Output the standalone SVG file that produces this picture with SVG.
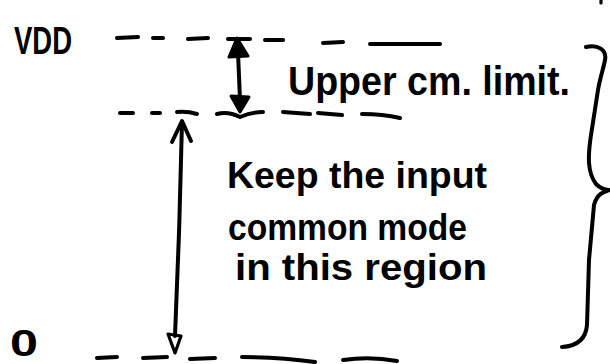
<svg xmlns="http://www.w3.org/2000/svg" width="610" height="364" viewBox="0 0 610 364">
  <style>
    .ink { fill: none; stroke: #000; stroke-width: 4; stroke-linecap: round; stroke-linejoin: round; }
    .thin { fill: none; stroke: #000; stroke-width: 3.2; stroke-linecap: round; stroke-linejoin: round; }
    .head { fill: #000; stroke: #000; stroke-width: 3; stroke-linejoin: round; }
    .hand { font-family: "Liberation Sans", "DejaVu Sans", sans-serif; font-weight: bold; fill: #000; }
  </style>
  <rect width="610" height="364" fill="#fff"/>

  <!-- supply rail label -->
  <g id="vdd-label">
    <text class="hand" x="14" y="54" font-size="38" textLength="58" lengthAdjust="spacingAndGlyphs">VDD</text>
  </g>

  <!-- ground label -->
  <g id="zero-label">
    <text class="hand" x="10" y="356" font-size="36" textLength="28" lengthAdjust="spacingAndGlyphs">0</text>
  </g>

  <!-- dashed VDD rail -->
  <g id="vdd-rail">
    <path class="ink" d="M117,38 L138,37"/>
    <path class="ink" d="M153,38 L163,38"/>
    <path class="ink" d="M188,39 L208,38"/>
    <path class="ink" d="M228,39 L250,39"/>
    <path class="ink" d="M265,40 L283,40"/>
    <path class="ink" d="M323,43 L343,42"/>
    <path class="ink" d="M370,44 L440,44"/>
  </g>

  <!-- dashed upper common-mode limit -->
  <g id="limit-line">
    <path class="ink" d="M120,113 L133,113"/>
    <path class="ink" d="M152,113 L160,113"/>
    <path class="ink" d="M177,112 Q187,111 197,114"/>
    <path class="ink" d="M217,114 Q228,111 240,117 Q251,112 263,112"/>
    <path class="ink" d="M283,112 L310,114"/>
    <path class="ink" d="M318,113 L342,115"/>
    <path class="ink" d="M362,114 Q383,114 400,118"/>
  </g>

  <!-- dashed ground rail -->
  <g id="ground-rail">
    <path class="ink" d="M97,358 L117,357"/>
    <path class="ink" d="M143,358 L167,357"/>
    <path class="ink" d="M190,359 L215,358"/>
    <path class="ink" d="M242,357 Q280,357 315,362"/>
    <path class="ink" d="M343,360 Q370,356 397,361"/>
  </g>

  <!-- headroom label -->
  <g id="upper-limit-label">
    <text class="hand" x="288" y="95" font-size="40" textLength="282" lengthAdjust="spacingAndGlyphs">Upper cm. limit.</text>
  </g>

  <!-- allowed range label -->
  <g id="region-label">
    <text class="hand" x="227" y="188" font-size="36" textLength="260" lengthAdjust="spacingAndGlyphs">Keep the input</text>
    <text class="hand" x="228" y="240" font-size="36" textLength="239" lengthAdjust="spacingAndGlyphs">common mode</text>
    <text class="hand" x="235" y="280" font-size="36" textLength="252" lengthAdjust="spacingAndGlyphs">in this region</text>
  </g>

  <!-- curly brace spanning the whole range -->
  <g id="range-brace">
    <path class="ink" d="M586,47 C598,44 607,50 605,60 C603,70 600,78 598,90 L591,135 C588,155 587,172 596,184 C600,188 605,190 609,190 C603,192 597,194 594,205 L589,260 L587,325 C586,338 578,346 562,347"/>
    <!-- stray pen mark at the top edge -->
    <path class="thin" d="M601,0 L601,3"/>
  </g>

  <!-- dimension arrows -->
  <g id="connectors">
    <!-- headroom: VDD rail to limit line -->
    <path class="ink" d="M238,52 L240,100"/>
    <path class="head" d="M237,38 L229,57 L248,56 Z"/>
    <path class="head" d="M240,112 L231,96 L249,97 Z"/>
    <!-- allowed range: limit line to ground -->
    <path class="ink" d="M182,122 C181,170 180,200 179,233 C178,260 177,290 175,336"/>
    <path class="ink" d="M172,142 L182,121 L191,141"/>
    <path class="thin" d="M168,334 L181,336 L175,353 Z"/>
  </g>
</svg>
